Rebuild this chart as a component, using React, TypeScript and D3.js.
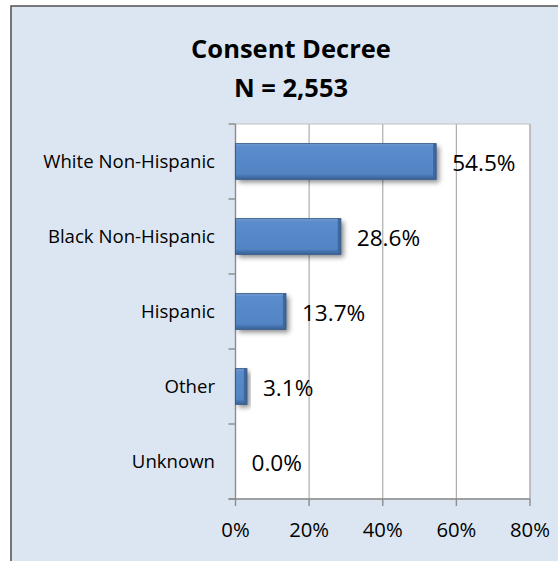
import React from "react";
import * as d3 from "d3";

const titleLines = ["Consent Decree", "N = 2,553"];
const categories = ["White Non-Hispanic", "Black Non-Hispanic", "Hispanic", "Other", "Unknown"];
const values = [0.545, 0.286, 0.137, 0.031, 0.0];
const xTicks = [0, 0.2, 0.4, 0.6, 0.8];

const W = 558;
const H = 561;
const FONT = "'Open Sans', 'Noto Sans', sans-serif";

export default function App() {
  const plotLeft = 235.5;
  const plotRight = 530;
  const plotTop = 124;
  const plotBottom = 499;

  const x = d3.scaleLinear().domain([0, 0.8]).range([plotLeft, plotRight]);
  const y = d3.scaleBand<string>().domain(categories).range([plotTop, plotBottom]).padding(0);
  const barH = y.bandwidth() / 2.1;
  const fmtPct = d3.format(".1%");
  const fmtTick = d3.format(".0%");
  const boundaries = d3.range(categories.length + 1).map((i) => plotTop + i * y.step());

  return (
    <svg width={W} height={H} style={{ position: "absolute", left: 0, top: 0 }} fontFamily={FONT}>
      <defs>
        <filter id="shadow" x="-20%" y="-40%" width="150%" height="200%">
          <feDropShadow dx="3" dy="3" stdDeviation="2.5" floodColor="#000" floodOpacity="0.45" />
        </filter>
        <linearGradient id="barGrad" x1="0" y1="0" x2="0" y2="1">
          <stop offset="0" stopColor="#7AA4DA" />
          <stop offset="0.08" stopColor="#5B8CCB" />
          <stop offset="0.85" stopColor="#5284C4" />
          <stop offset="0.92" stopColor="#4471AC" />
          <stop offset="1" stopColor="#3B6499" />
        </linearGradient>
      </defs>
      <rect x={11} y={6} width={600} height={620} fill="#DCE6F2" stroke="#595959" strokeWidth={1.6} />

      {titleLines.map((t, i) => (
        <text key={t} x={291} y={58.3 + i * 38.4} textAnchor="middle" fontWeight="bold" fontSize={25.5} fill="#000">
          {t}
        </text>
      ))}

      <rect x={plotLeft} y={plotTop} width={plotRight - plotLeft} height={plotBottom - plotTop} fill="#fff" stroke="#C0C0C0" strokeWidth={1} />

      {xTicks.slice(1).map((t) => (
        <line key={"g" + t} x1={x(t)} x2={x(t)} y1={plotTop} y2={plotBottom} stroke="#ADADAD" strokeWidth={1.2} />
      ))}

      {/* y axis */}
      <line x1={plotLeft} x2={plotLeft} y1={plotTop} y2={plotBottom} stroke="#8C8C8C" strokeWidth={1.4} />
      {boundaries.map((b) => (
        <line key={"yt" + b} x1={plotLeft - 7} x2={plotLeft} y1={b} y2={b} stroke="#8C8C8C" strokeWidth={1.4} />
      ))}
      {/* x axis */}
      <line x1={plotLeft - 7} x2={plotRight} y1={plotBottom} y2={plotBottom} stroke="#8C8C8C" strokeWidth={1.4} />
      {xTicks.map((t) => (
        <line key={"xt" + t} x1={x(t)} x2={x(t)} y1={plotBottom} y2={plotBottom + 7} stroke="#8C8C8C" strokeWidth={1.4} />
      ))}
      {xTicks.map((t) => (
        <text key={"xl" + t} x={x(t)} y={536.7} textAnchor="middle" fontSize={20.3} fill="#000">
          {fmtTick(t)}
        </text>
      ))}

      {categories.map((c) => {
        const cy = (y(c) as number) + y.bandwidth() / 2;
        return (
          <text key={"c" + c} x={215} y={cy + 6.5} textAnchor="end" fontSize={18.6} fill="#000">
            {c}
          </text>
        );
      })}

      {categories.map((c, i) => {
        const v = values[i];
        if (v <= 0) return null;
        const cy = (y(c) as number) + y.bandwidth() / 2;
        const bx = x(0);
        const bw = x(v) - x(0);
        const by = cy - barH / 2;
        return (
          <g key={"b" + c}>
            <rect x={bx} y={by} width={bw} height={barH} fill="url(#barGrad)" filter="url(#shadow)" />
            <rect x={bx + bw - 3} y={by} width={3} height={barH} fill="#3E679D" />
            <rect x={bx} y={by} width={bw} height={barH} fill="none" stroke="#385D8A" strokeWidth={1} />
          </g>
        );
      })}

      {categories.map((c, i) => {
        const v = values[i];
        const cy = (y(c) as number) + y.bandwidth() / 2;
        return (
          <text key={"v" + c} x={x(v) + 16} y={cy + 9.5} textAnchor="start" fontSize={22.6} fill="#000">
            {fmtPct(v)}
          </text>
        );
      })}
    </svg>
  );
}
